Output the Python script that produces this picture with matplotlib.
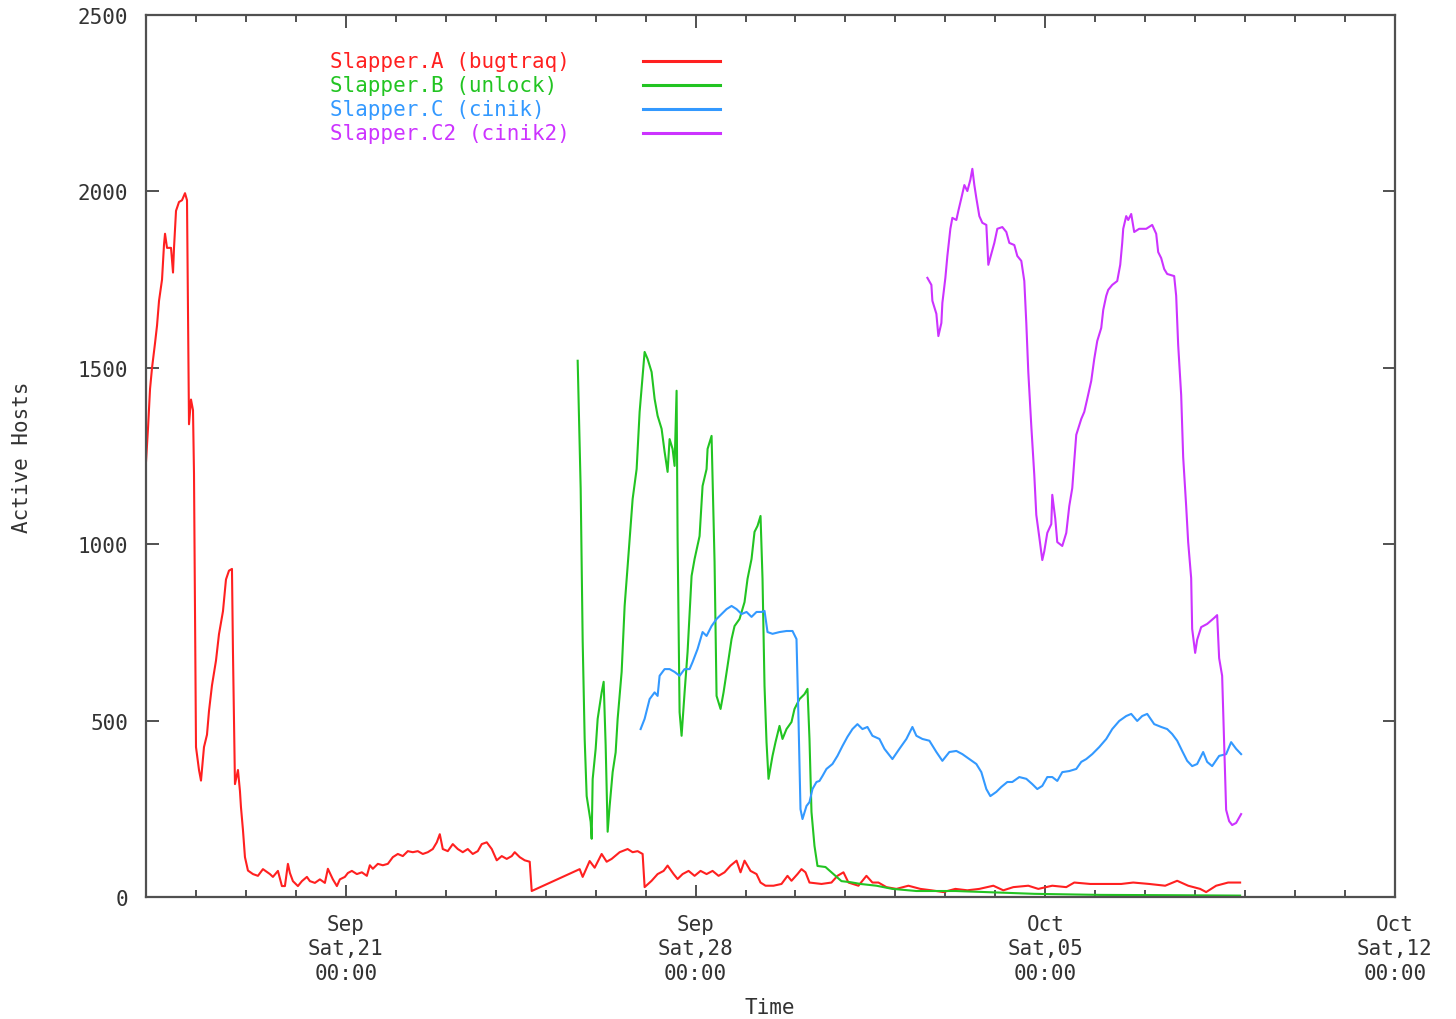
# Slapper worm variants - active hosts over time (gnuplot style)
import numpy as np
import matplotlib
matplotlib.use('Agg')
import matplotlib.pyplot as plt
import matplotlib.dates as mdates

# time is in days since Tue 2002-09-17 00:00
a_days = [0.00, 0.04, 0.08, 0.12, 0.18, 0.22, 0.26, 0.32, 0.36, 0.38, 0.42, 0.50, 0.54, 0.56,
          0.60, 0.66, 0.72, 0.78, 0.82, 0.86, 0.90, 0.94, 0.96, 1.00, 1.06, 1.10, 1.16, 1.22,
          1.26, 1.32, 1.40, 1.46, 1.54, 1.60, 1.66, 1.72, 1.74, 1.78, 1.84, 1.88, 1.90, 1.94,
          1.98, 2.04, 2.14, 2.24, 2.34, 2.48, 2.54, 2.64, 2.72, 2.78, 2.84, 2.88, 2.94, 3.04,
          3.12, 3.22, 3.28, 3.38, 3.48, 3.58, 3.64, 3.74, 3.82, 3.88, 3.98, 4.04, 4.12, 4.22,
          4.32, 4.42, 4.48, 4.54, 4.64, 4.74, 4.84, 4.94, 5.04, 5.14, 5.24, 5.34, 5.44, 5.54,
          5.64, 5.74, 5.82, 5.88, 5.94, 6.04, 6.14, 6.24, 6.34, 6.44, 6.54, 6.64, 6.72, 6.82,
          6.92, 7.02, 7.12, 7.22, 7.32, 7.38, 7.48, 7.58, 7.68, 7.72, 8.68, 8.74, 8.88, 8.98,
          9.12, 9.22, 9.32, 9.48, 9.64, 9.74, 9.84, 9.94, 9.98, 10.12, 10.24, 10.36, 10.44,
          10.56, 10.64, 10.74, 10.86, 10.98, 11.10, 11.22, 11.34, 11.46, 11.58, 11.70, 11.82,
          11.90, 11.98, 12.10, 12.22, 12.30, 12.40, 12.56, 12.72, 12.84, 12.92, 13.04, 13.12,
          13.20, 13.28, 13.52, 13.72, 13.84, 13.96, 14.06, 14.26, 14.42, 14.54, 14.66, 14.82,
          15.02, 15.26, 15.50, 15.72, 15.96, 16.20, 16.44, 16.68, 16.96, 17.16, 17.36, 17.66,
          17.86, 18.14, 18.42, 18.58, 18.90, 19.20, 19.52, 19.76, 20.08, 20.40, 20.64, 20.86,
          21.10, 21.22, 21.42, 21.66, 21.90]
a_hosts = [1235, 1330, 1440, 1500, 1570, 1620, 1690, 1750, 1850, 1880, 1840, 1840, 1770, 1840,
           1945, 1970, 1975, 1995, 1975, 1340, 1410, 1380, 1200, 425, 360, 330, 425, 460,
           527, 600, 670, 745, 810, 900, 925, 930, 695, 320, 360, 300, 255, 190,
           113, 75, 65, 60, 79, 65, 57, 74, 31, 31, 94, 68, 45, 31,
           45, 57, 45, 40, 50, 40, 80, 50, 31, 50, 57, 68, 74, 65,
           70, 60, 90, 80, 94, 90, 94, 113, 122, 116, 130, 127, 130, 122,
           127, 136, 155, 178, 136, 130, 150, 136, 127, 136, 122, 130, 150, 155,
           136, 104, 116, 108, 116, 127, 113, 104, 100, 17, 79, 57, 102, 83,
           122, 100, 108, 127, 136, 127, 130, 122, 28, 46, 65, 74, 89,
           65, 51, 65, 74, 60, 74, 65, 74, 60, 70, 89, 103,
           70, 103, 74, 65, 41, 32, 32, 37, 60, 46, 65, 79,
           70, 41, 37, 41, 60, 70, 41, 32, 60, 41, 41, 28,
           23, 32, 23, 19, 14, 23, 19, 23, 32, 19, 28, 32,
           23, 32, 28, 41, 37, 37, 37, 41, 37, 32, 46, 32,
           23, 14, 32, 41, 41]

b_days = [8.64, 8.70, 8.74, 8.78, 8.82, 8.90, 8.92, 8.94, 9.00, 9.04, 9.12, 9.16, 9.20, 9.24,
          9.28, 9.34, 9.40, 9.44, 9.52, 9.58, 9.64, 9.70, 9.74, 9.82, 9.88, 9.94, 9.98, 10.04,
          10.12, 10.18, 10.24, 10.32, 10.38, 10.44, 10.48, 10.54, 10.58, 10.62, 10.64, 10.68,
          10.72, 10.78, 10.84, 10.92, 10.98, 11.08, 11.14, 11.22, 11.24, 11.32, 11.38, 11.42,
          11.50, 11.56, 11.64, 11.72, 11.78, 11.88, 11.98, 12.04, 12.12, 12.18, 12.24, 12.30,
          12.34, 12.38, 12.42, 12.46, 12.54, 12.60, 12.68, 12.74, 12.82, 12.92, 12.98, 13.08,
          13.18, 13.24, 13.28, 13.32, 13.38, 13.44, 13.60, 13.76, 13.92, 14.10, 14.30, 14.62,
          14.94, 15.42, 16.20, 17.00, 17.78, 19.08, 20.68, 21.90]
b_hosts = [1520, 1157, 726, 448, 286, 213, 165, 334, 420, 505, 580, 610, 430, 185,
           258, 354, 410, 505, 638, 825, 938, 1052, 1128, 1213, 1375, 1477, 1545, 1525,
           1488, 1412, 1364, 1327, 1262, 1205, 1298, 1270, 1222, 1435, 1015, 524,
           457, 580, 695, 910, 958, 1023, 1165, 1213, 1270, 1307, 950, 570,
           533, 580, 655, 731, 768, 788, 836, 902, 958, 1035, 1052, 1080,
           902, 598, 439, 335, 400, 439, 485, 448, 476, 496, 533, 561,
           575, 590, 448, 241, 145, 88, 85, 65, 45, 42, 37, 32,
           23, 17, 17, 13, 9, 6, 5, 4]

c_days = [9.90, 9.98, 10.08, 10.18, 10.24, 10.28, 10.38, 10.48, 10.58, 10.68, 10.78, 10.88,
          10.94, 11.04, 11.14, 11.22, 11.32, 11.42, 11.52, 11.62, 11.72, 11.82, 11.92, 12.02,
          12.12, 12.22, 12.32, 12.38, 12.44, 12.54, 12.68, 12.82, 12.94, 13.02, 13.06, 13.10,
          13.14, 13.22, 13.28, 13.34, 13.42, 13.48, 13.54, 13.62, 13.74, 13.84, 13.94, 14.04,
          14.14, 14.24, 14.34, 14.44, 14.54, 14.68, 14.78, 14.94, 15.08, 15.22, 15.34, 15.42,
          15.54, 15.68, 15.82, 15.94, 16.08, 16.22, 16.34, 16.48, 16.62, 16.72, 16.82, 16.90,
          17.02, 17.12, 17.24, 17.34, 17.48, 17.62, 17.74, 17.84, 17.94, 18.04, 18.14, 18.24,
          18.34, 18.48, 18.62, 18.72, 18.82, 18.94, 19.08, 19.22, 19.34, 19.48, 19.62, 19.72,
          19.84, 19.94, 20.04, 20.18, 20.32, 20.44, 20.54, 20.64, 20.74, 20.84, 20.94, 21.04,
          21.16, 21.24, 21.34, 21.48, 21.62, 21.72, 21.82, 21.92]
c_hosts = [476, 505, 561, 580, 570, 627, 646, 646, 638, 627, 646, 646,
           666, 703, 751, 740, 768, 788, 802, 816, 825, 816, 802, 808,
           794, 808, 808, 811, 751, 746, 751, 754, 754, 731, 505, 249,
           221, 258, 269, 306, 326, 329, 343, 363, 377, 400, 428, 454,
           476, 490, 476, 482, 457, 448, 420, 391, 420, 448, 482, 457,
           448, 443, 411, 386, 411, 414, 405, 391, 377, 354, 306, 286,
           298, 312, 326, 326, 340, 335, 320, 306, 315, 340, 340, 329,
           354, 357, 363, 383, 391, 405, 425, 448, 476, 499, 513, 519,
           499, 513, 519, 490, 482, 476, 462, 443, 414, 386, 371, 377,
           411, 383, 371, 400, 405, 439, 420, 405]

c2_days = [15.64, 15.72, 15.74, 15.82, 15.86, 15.92, 15.94, 16.00, 16.04, 16.10, 16.14, 16.22,
           16.26, 16.32, 16.38, 16.44, 16.50, 16.54, 16.58, 16.62, 16.68, 16.74, 16.82, 16.86,
           16.92, 16.98, 17.04, 17.14, 17.22, 17.28, 17.38, 17.44, 17.52, 17.58, 17.62, 17.66,
           17.72, 17.78, 17.82, 17.88, 17.94, 17.98, 18.04, 18.12, 18.14, 18.20, 18.24, 18.34,
           18.42, 18.48, 18.54, 18.58, 18.62, 18.72, 18.78, 18.84, 18.92, 18.98, 19.04, 19.12,
           19.16, 19.22, 19.26, 19.34, 19.44, 19.50, 19.54, 19.56, 19.62, 19.66, 19.72, 19.78,
           19.88, 20.02, 20.14, 20.22, 20.26, 20.32, 20.38, 20.44, 20.58, 20.62, 20.66, 20.72,
           20.76, 20.82, 20.86, 20.92, 20.94, 21.00, 21.04, 21.12, 21.24, 21.38, 21.44, 21.48,
           21.54, 21.58, 21.62, 21.68, 21.74, 21.82, 21.92]
c2_hosts = [1755, 1735, 1690, 1653, 1590, 1627, 1684, 1755, 1817, 1894, 1925, 1919,
            1945, 1981, 2018, 2001, 2033, 2064, 2018, 1981, 1930, 1911, 1905, 1792,
            1823, 1854, 1894, 1899, 1885, 1854, 1848, 1817, 1803, 1746, 1627, 1488,
            1335, 1196, 1083, 1020, 955, 980, 1032, 1057, 1140, 1072, 1006, 995,
            1032, 1108, 1159, 1236, 1310, 1355, 1375, 1412, 1463, 1525, 1576, 1613,
            1664, 1704, 1721, 1735, 1746, 1792, 1854, 1894, 1930, 1919, 1936, 1885,
            1894, 1894, 1905, 1880, 1828, 1811, 1780, 1766, 1760, 1704, 1565, 1423,
            1247, 1108, 1006, 904, 760, 692, 729, 765, 774, 791, 799, 677,
            627, 437, 247, 215, 204, 210, 235]

labels = ['Slapper.A (bugtraq)', 'Slapper.B (unlock)', 'Slapper.C (cinik)', 'Slapper.C2 (cinik2)']
colors = ['#ff2020', '#22c422', '#3399ff', '#cc33ff']

start = np.datetime64('2002-09-17T00:00:00')


def to_time(days):
    secs = np.round(np.array(days) * 86400).astype('int64')
    return start + secs.astype('timedelta64[s]')


plt.rcParams['font.family'] = 'DejaVu Sans Mono'
txt = '#333333'
fs = 15

fig = plt.figure(figsize=(14.56, 10.2), dpi=100)
ax = fig.add_axes([0.1003, 0.1196, 0.8578, 0.8647])

series = [(a_days, a_hosts), (b_days, b_hosts), (c_days, c_hosts), (c2_days, c2_hosts)]
for (d, h), col in zip(series, colors):
    ax.plot(to_time(d), h, color=col, lw=1.5)

ax.set_xlim(np.datetime64('2002-09-17'), np.datetime64('2002-10-12'))
ax.set_ylim(0, 2500)
ax.set_yticks(range(0, 2501, 500))

ax.xaxis.set_major_locator(mdates.DayLocator(bymonthday=[5, 12, 21, 28]))
ax.xaxis.set_minor_locator(mdates.DayLocator())
ax.xaxis.set_major_formatter(mdates.DateFormatter('%b\n%a,%d\n%H:%M'))

ax.tick_params(which='both', direction='in', top=True, right=True, colors=txt,
               labelsize=fs, width=1.2)
ax.tick_params(which='major', length=9)
ax.tick_params(which='minor', length=5)
ax.tick_params(axis='x', pad=12)
ax.tick_params(axis='y', pad=13)
for lbl in ax.get_xticklabels():
    lbl.set_horizontalalignment('center')
    lbl.set_linespacing(1.3)
for sp in ax.spines.values():
    sp.set_color('#505050')
    sp.set_linewidth(1.6)

ax.set_xlabel('Time', fontsize=fs, color=txt, va='center')
ax.xaxis.set_label_coords(0.4995, -0.1247)
ax.set_ylabel('Active Hosts', fontsize=fs, color=txt, va='center')
ax.yaxis.set_label_coords(-0.0993, 0.5)

# gnuplot-style key: left aligned labels, sample line on the right
key_top = 0.948
key_step = 0.0272
for i, (lab, col) in enumerate(zip(labels, colors)):
    yk = key_top - i * key_step
    ax.text(0.1473, yk, lab, transform=ax.transAxes, color=col, fontsize=fs,
            ha='left', va='center')
    ax.plot([0.398, 0.4596], [yk, yk], transform=ax.transAxes, color=col, lw=2.2)

fig.savefig('out.png', dpi=100)
